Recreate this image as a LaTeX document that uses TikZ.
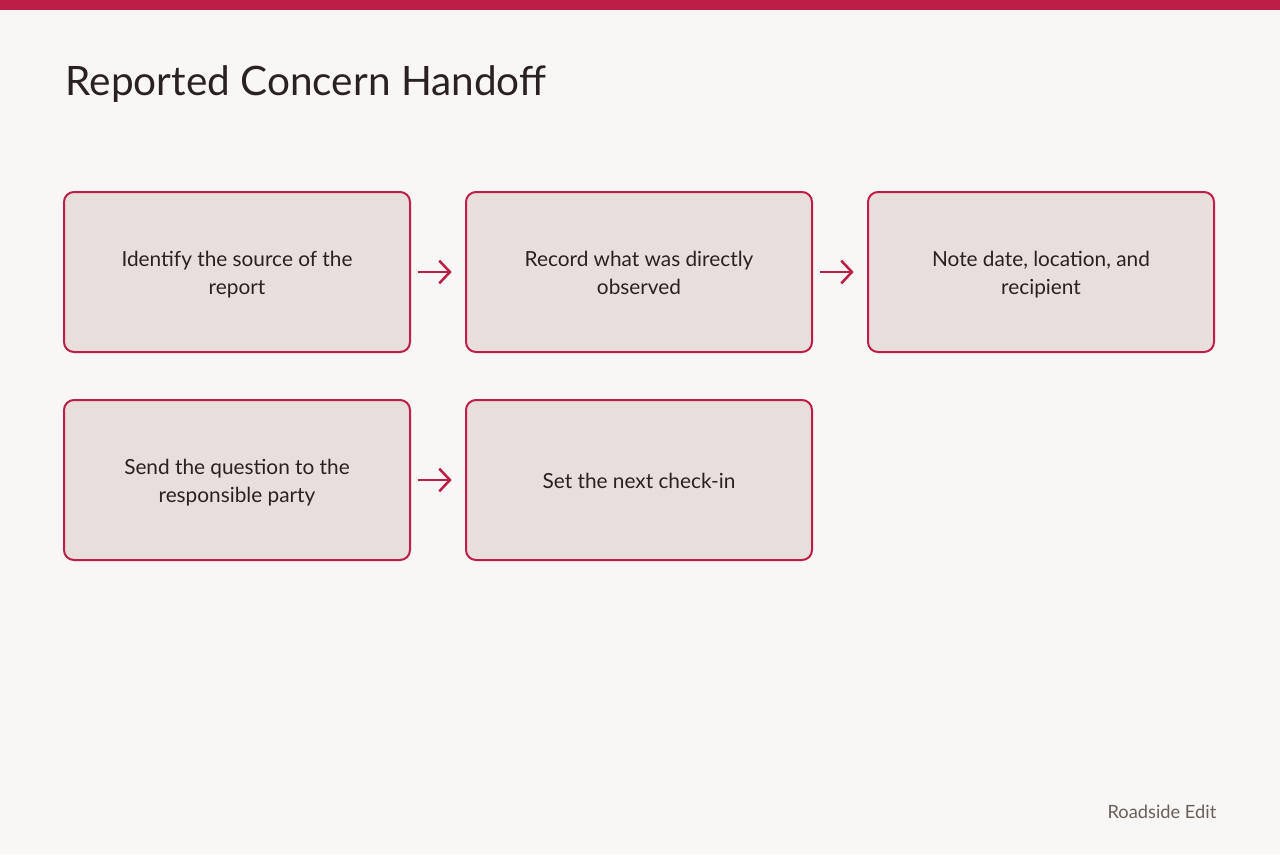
\documentclass[tikz,border=0pt]{standalone}
\usepackage{fontspec}
\setmainfont{Lato}
\usetikzlibrary{arrows.meta}
\definecolor{pagebg}{HTML}{F9F7F5}
\definecolor{accent}{HTML}{BC1E48}
\definecolor{boxfill}{HTML}{E8DFDD}
\definecolor{inktext}{HTML}{2A2220}
\definecolor{softtext}{HTML}{6B5F5A}
% two lines, set a little low as in the reference
\newcommand{\boxlines}[2]{\raisebox{-2.2pt}[\height][\depth]{\begin{tabular}{@{}c@{}}#1\\#2\end{tabular}}}
\tikzset{
  stepbox/.style={draw=accent, fill=boxfill, line width=1.5pt, rounded corners=7.5pt,
    minimum width=259.5pt, minimum height=120pt, inner sep=0pt, align=center,
    text=inktext, font=\fontsize{15.6}{21}\selectfont},
  flow/.style={draw=accent, line width=1.9pt, -{Straight Barb[length=8pt,width=17pt,line width=1.9pt]}}
}
\begin{document}
\begin{tikzpicture}[x=0.75pt,y=-0.75pt]
  \useasboundingbox[fill=pagebg] (0,0) rectangle (1280,854);
  \fill[accent] (0,0) rectangle (1280,10);

  \node[anchor=base west, text=inktext, font=\fontsize{30.4}{36}\selectfont] (title) at (61,95) {Reported Concern Handoff};

  \node[stepbox] (source) at (237,272) {\boxlines{Identify the source of the}{report}};
  \node[stepbox] (observed) at (639,272) {\boxlines{Record what was directly}{observed}};
  \node[stepbox] (details) at (1041,272) {\boxlines{Note date, location, and}{recipient}};
  \node[stepbox] (party) at (237,480) {\boxlines{Send the question to the}{responsible party}};
  \node[stepbox] (checkin) at (639,480) {\raisebox{-0.8pt}[\height][\depth]{Set the next check-in}};

  \draw[flow] ([xshift=5pt]source.east) -- ([xshift=-10pt]observed.west);
  \draw[flow] ([xshift=5pt]observed.east) -- ([xshift=-10pt]details.west);
  \draw[flow] ([xshift=5pt]party.east) -- ([xshift=-10pt]checkin.west);

  \node[anchor=base east, text=softtext, font=\fontsize{13.7}{16}\selectfont] (brand) at (1221,818) {Roadside Edit};
\end{tikzpicture}
\end{document}
